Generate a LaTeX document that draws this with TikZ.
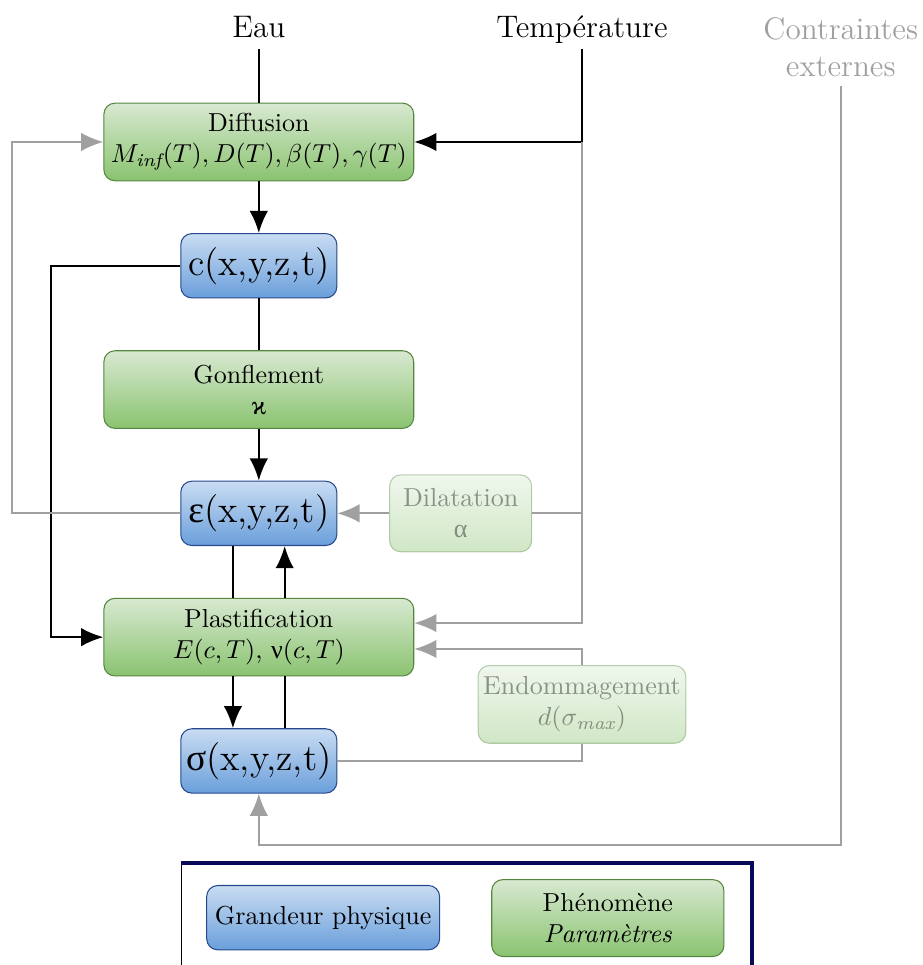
\documentclass[tikz,border=0pt]{standalone}
\usepackage{fontspec}
\newfontfamily\grfont{Liberation Serif}
\usetikzlibrary{arrows.meta,positioning,calc}

\definecolor{bluetop}{RGB}{201,220,242}
\definecolor{bluebot}{RGB}{106,159,219}
\definecolor{blueline}{RGB}{38,72,140}
\definecolor{greentop}{RGB}{216,233,209}
\definecolor{greenbot}{RGB}{138,195,112}
\definecolor{greenline}{RGB}{84,134,62}
\definecolor{linegray}{RGB}{160,160,160}
\definecolor{frameblue}{RGB}{10,10,90}

\newcommand{\gr}[1]{{\grfont #1}}

\begin{document}
\begin{tikzpicture}[
  >={Latex[length=3mm,width=2.5mm]},
  grand/.style={draw=blueline, rounded corners=1.5mm, align=center, top color=bluetop, bottom color=bluebot, minimum width=21.1mm, minimum height=8.7mm, inner xsep=1.5pt, font=\Large},
  phen/.style={draw=greenline, rounded corners=1.5mm, align=center, top color=greentop, bottom color=greenbot, minimum width=41.9mm, minimum height=10.5mm, inner xsep=1pt},
  faded/.style={opacity=.4},
  toplabel/.style={font=\large, text height=1.5ex, text depth=.25ex},
  link/.style={thick},
  faint/.style={thick, linegray}
]

\useasboundingbox (-35.0mm,19.2mm) rectangle (89.8mm,-111.3mm);

% main column
\node[phen] (diff) at (0,0) {Diffusion\\$M_{\mathit{inf}}(T), D(T), \beta(T), \gamma(T)$};
\node[grand, below=7mm of diff] (conc) {c(x,y,z,t)};
\node[phen, below=7mm of conc] (gonf) {Gonflement\\\gr{ϰ}};
\node[grand, below=7mm of gonf] (defo) {\gr{ε}(x,y,z,t)};
\node[phen, faded, minimum width=19.2mm, minimum height=10.4mm, right=7mm of defo] (dil) {Dilatation\\\gr{α}};
\node[phen, below=7mm of defo] (plast) {Plastification\\$E(c,T)$, \gr{ν}$(c,T)$};
\node[grand, below=7mm of plast] (sig) {\gr{σ}(x,y,z,t)};

% inputs
\node[toplabel] (eau) at ($(diff)+(0,15.1mm)$) {Eau};
\node[toplabel] (temp) at ($(diff)+(43.7mm,15.1mm)$) {Température};
\node[font=\large, align=center, text=linegray] (contr) at ($(diff)+(78.7mm,12.8mm)$) {Contraintes\\externes};
\node[phen, faded, minimum width=28.1mm] (endo) at ($(plast)+(43.7mm,-9.1mm)$) {Endommagement\\$d(\sigma_{\mathit{max}})$};

\draw[link] (eau) -- (diff);
\draw[link,->] (temp) |- (diff);
\draw[faint,->] (temp |- diff.east) |- ([yshift=1.9mm]plast.east);
\draw[faint] (temp |- dil) -- (dil);
\draw[faint,->] (dil) -- (defo);

\draw[link,->] (diff) -- (conc);
\draw[link] (conc) -- (gonf);
\draw[link,->] (gonf) -- (defo);
\draw[link,->] (conc.west) -- ++(-17.5mm,0) |- (plast.west);
\draw[faint,->] (defo.west) -- ++(-22.7mm,0) |- (diff.west);

\draw[link] ([xshift=-3.5mm]defo.south) -- ([xshift=-3.5mm]plast.north);
\draw[link,->] ([xshift=3.5mm]plast.north) -- ([xshift=3.5mm]defo.south);
\draw[link,->] ([xshift=-3.5mm]plast.south) -- ([xshift=-3.5mm]sig.north);
\draw[link] ([xshift=3.5mm]sig.north) -- ([xshift=3.5mm]plast.south);

\draw[faint] (sig) -| (endo);
\draw[faint,->] (endo) |- ([yshift=-1.6mm]plast.east);
\coordinate (loop) at ($(sig.south)+(0,-6.9mm)$);
\draw[faint,->] (contr) |- (loop) -- (sig);

% legend
\draw[black] (-10.5mm,-97.5mm) rectangle (66.7mm,-125mm);
\draw[frameblue, line width=1.2pt] (-10.5mm,-97.5mm) -- (66.7mm,-97.5mm) -- (66.7mm,-125mm);
\node[grand, font=\normalsize, minimum width=31.5mm] (leggr) at (8.7mm,-104.9mm) {Grandeur physique};
\node[phen, minimum width=31.4mm, minimum height=10.4mm] (legph) at (47.2mm,-104.95mm) {Phénomène\\\textit{Paramètres}};

\end{tikzpicture}
\end{document}
